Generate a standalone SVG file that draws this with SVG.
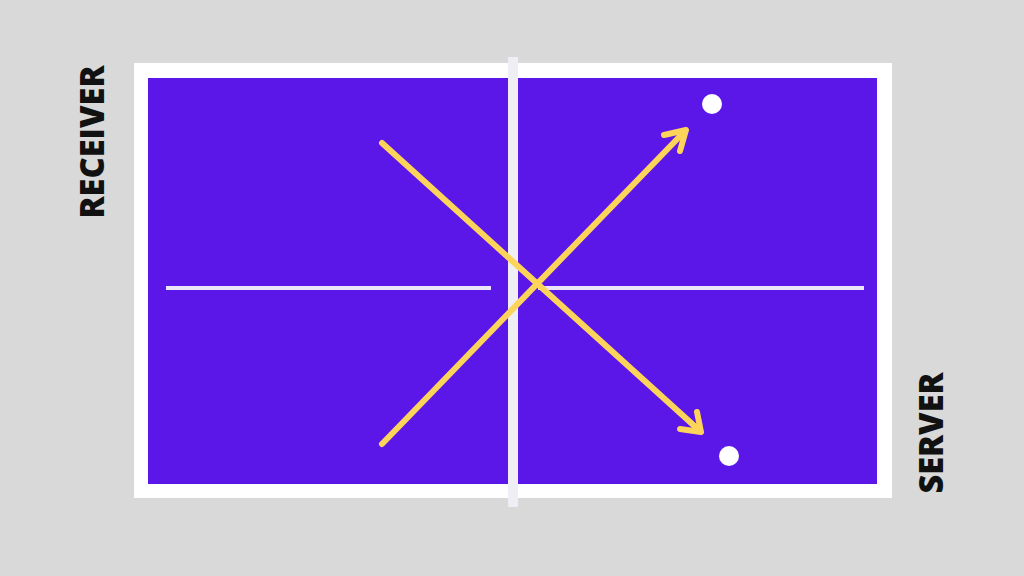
<svg xmlns="http://www.w3.org/2000/svg" width="1024" height="576" viewBox="0 0 1024 576">
<style>
.lbl{font-family:"Open Sans","Liberation Sans",sans-serif;font-weight:800;font-size:33px;fill:#111;}
.arrow{stroke:#fdd45a;stroke-width:6;fill:none;stroke-linecap:round;stroke-linejoin:round;}
.cl{stroke:#ece6fb;stroke-width:4;}
.ball{fill:#ffffff;}
</style>
<rect x="0" y="0" width="1024" height="576" fill="#d9d9d9"/>
<g id="table">
<rect x="134" y="63" width="758" height="435" fill="#ffffff"/>
<rect x="148" y="78" width="729" height="406" fill="#5b17e8"/>
<line class="cl" x1="166" y1="288" x2="491" y2="288"/>
<line class="cl" x1="538" y1="288" x2="864" y2="288"/>
</g>
<g id="net">
<rect x="508" y="57" width="10" height="450" fill="#eeeef4"/>
</g>
<g id="connectors">
<path class="arrow" d="M382 143 L700 431"/>
<path class="arrow" d="M697 412 L701 432 L680 429"/>
<path class="arrow" d="M382 444 L685 131"/>
<path class="arrow" d="M664 135 L686 130 L680 151"/>
</g>
<g id="ball1"><circle class="ball" cx="712" cy="104" r="10"/></g>
<g id="ball2"><circle class="ball" cx="729" cy="456" r="10"/></g>
<g id="receiver"><text class="lbl" transform="translate(104,142) rotate(-90)" text-anchor="middle" textLength="153" lengthAdjust="spacingAndGlyphs">RECEIVER</text></g>
<g id="server"><text class="lbl" transform="translate(943,433) rotate(-90)" text-anchor="middle" textLength="121" lengthAdjust="spacingAndGlyphs">SERVER</text></g>
</svg>
